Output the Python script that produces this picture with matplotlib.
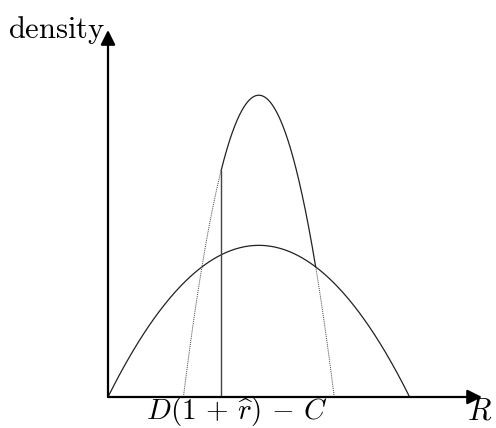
import numpy as np
import matplotlib
matplotlib.use("Agg")
import matplotlib.pyplot as plt

plt.rcParams["mathtext.fontset"] = "cm"

# curve parameters (R units): centre, half-width, peak density
wide = {"centre": 1.0, "half": 1.0, "peak": 1.0}
narrow = {"centre": 1.0, "half": 0.5, "peak": 1.99}
threshold = 0.75          # D(1+r^) - C
x_max, y_max = 2.48, 2.42


def parabola(p, x):
    return p["peak"] * (1 - ((x - p["centre"]) / p["half"]) ** 2)


fig = plt.figure(figsize=(4.96, 4.28), dpi=100)
ax = fig.add_axes([108 / 496, 31 / 428, (482 - 108) / 496, (397 - 30) / 428])
ax.set_xlim(0, x_max)
ax.set_ylim(0, y_max)
ax.axis("off")

# wide curve
xw = np.linspace(wide["centre"] - wide["half"], wide["centre"] + wide["half"], 400)
ax.plot(xw, parabola(wide, xw), color="#222222", lw=0.9)

# narrow curve: dotted outside, solid from threshold to the crossing
u2 = (narrow["peak"] - wide["peak"]) / (narrow["peak"] / narrow["half"] ** 2 - wide["peak"] / wide["half"] ** 2)
x_cross = narrow["centre"] + np.sqrt(u2)
lo, hi = narrow["centre"] - narrow["half"], narrow["centre"] + narrow["half"]
xs = np.linspace(threshold, x_cross, 300)
ax.plot(xs, parabola(narrow, xs), color="#222222", lw=0.9)
xl = np.linspace(lo, threshold, 100)
ax.plot(xl, parabola(narrow, xl), color="#444444", lw=0.7, ls=(0, (1, 1)))
xr = np.linspace(x_cross, hi, 100)
ax.plot(xr, parabola(narrow, xr), color="#444444", lw=0.7, ls=(0, (1, 1)))

# threshold line
ax.plot([threshold, threshold], [0, parabola(narrow, np.array(threshold))],
        color="#444444", lw=1.0)

# axes with arrows
arrow = dict(arrowstyle="-|>", lw=1.6, color="black", mutation_scale=22, shrinkA=0, shrinkB=0)
ax.annotate("", xy=(x_max, 0), xytext=(0, 0), arrowprops=arrow, annotation_clip=False)
ax.annotate("", xy=(0, y_max), xytext=(0, 0), arrowprops=arrow, annotation_clip=False)

fig.text(8 / 496, 1 - 38 / 428, r"$\mathrm{density}$", fontsize=22, ha="left", va="baseline")
fig.text(492 / 496, 1 - 420 / 428, r"$R$", fontsize=22, ha="right", va="baseline")
fig.text(237 / 496, 1 - 419 / 428, r"$D(1\,+\,\widehat{r})\,-\,C$", fontsize=21,
         ha="center", va="baseline")

fig.savefig("out.png", dpi=100)
